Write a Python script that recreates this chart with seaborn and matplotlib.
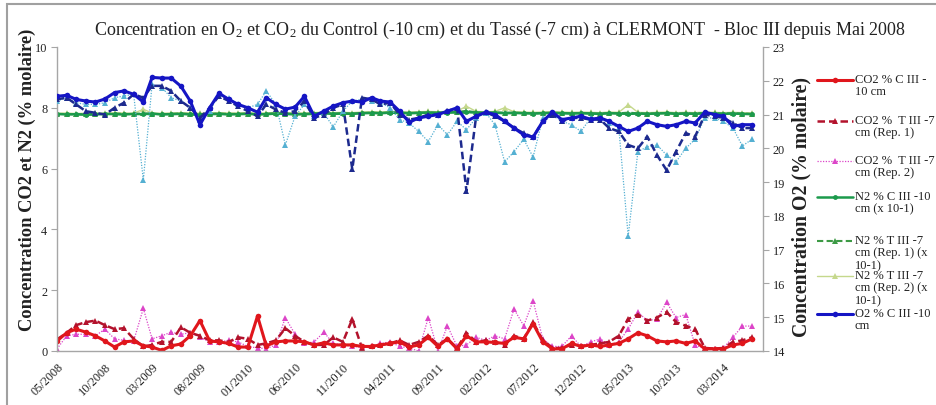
import matplotlib
matplotlib.use("Agg")
import matplotlib.pyplot as plt
import matplotlib.dates as mdates
import matplotlib.ticker as mticker
from matplotlib.lines import Line2D
from matplotlib.patches import Rectangle
import seaborn as sns
import pandas as pd

# ---- data -------------------------------------------------------------
months = [
    "2008-05", "2008-06", "2008-07", "2008-08", "2008-09", "2008-10", "2008-11", "2008-12",
    "2009-01", "2009-02", "2009-03", "2009-04", "2009-05", "2009-06", "2009-07", "2009-08",
    "2009-09", "2009-10", "2009-11", "2009-12", "2010-01", "2010-02", "2010-03", "2010-04",
    "2010-05", "2010-06", "2010-07", "2010-08", "2010-09", "2010-10", "2010-11", "2010-12",
    "2011-01", "2011-02", "2011-03", "2011-04", "2011-05", "2011-06", "2011-07", "2011-08",
    "2011-09", "2011-10", "2011-11", "2011-12", "2012-01", "2012-02", "2012-03", "2012-04",
    "2012-05", "2012-06", "2012-07", "2012-08", "2012-09", "2012-10", "2012-11", "2012-12",
    "2013-01", "2013-02", "2013-03", "2013-04", "2013-05", "2013-06", "2013-07", "2013-08",
    "2013-09", "2013-10", "2013-11", "2013-12", "2014-01", "2014-02", "2014-03", "2014-04",
    "2014-05", "2014-06",
]

co2_c = [0.33, 0.60, 0.72, 0.62, 0.50, 0.33, 0.13, 0.30, 0.33, 0.17,
         0.13, 0.02, 0.17, 0.23, 0.50, 1.00, 0.33, 0.30, 0.25, 0.13,
         0.13, 1.15, 0.17, 0.30, 0.33, 0.33, 0.30, 0.20, 0.27, 0.20,
         0.20, 0.20, 0.15, 0.15, 0.20, 0.25, 0.30, 0.13, 0.20, 0.45,
         0.15, 0.40, 0.07, 0.50, 0.30, 0.30, 0.28, 0.25, 0.45, 0.40,
         0.90, 0.30, 0.07, 0.07, 0.25, 0.15, 0.20, 0.15, 0.20, 0.25,
         0.40, 0.60, 0.50, 0.33, 0.30, 0.33, 0.25, 0.33, 0.07, 0.07,
         0.07, 0.20, 0.25, 0.40]
co2_t1 = [0.38, 0.60, 0.85, 0.95, 1.00, 0.85, 0.72, 0.75, 0.40, 0.15,
          0.20, 0.30, 0.30, 0.78, 0.60, 0.50, 0.35, 0.35, 0.30, 0.45,
          0.40, 0.20, 0.25, 0.35, 0.75, 0.50, 0.30, 0.20, 0.20, 0.45,
          0.30, 1.05, 0.10, 0.15, 0.20, 0.25, 0.35, 0.20, 0.30, 0.50,
          0.20, 0.40, 0.10, 0.60, 0.30, 0.35, 0.30, 0.20, 0.50, 0.40,
          0.95, 0.35, 0.10, 0.10, 0.20, 0.15, 0.20, 0.25, 0.30, 0.50,
          1.05, 1.20, 1.00, 1.10, 1.28, 0.95, 0.83, 0.72, 0.10, 0.08,
          0.10, 0.30, 0.35, 0.45]
co2_t2 = [0.07, 0.50, 0.55, 0.55, 0.50, 0.72, 0.40, 0.35, 0.33, 1.40,
          0.40, 0.50, 0.62, 0.55, 0.60, 0.45, 0.30, 0.30, 0.35, 0.30,
          0.15, 0.10, 0.08, 0.20, 1.10, 0.55, 0.25, 0.30, 0.62, 0.25,
          0.20, 0.15, 0.12, 0.15, 0.25, 0.30, 0.15, 0.10, 0.00, 1.10,
          0.00, 0.83, 0.15, 0.20, 0.45, 0.35, 0.50, 0.40, 1.38, 0.83,
          1.65, 0.40, 0.15, 0.15, 0.50, 0.15, 0.30, 0.40, 0.20, 0.30,
          0.72, 1.28, 1.00, 1.05, 1.60, 1.10, 1.20, 0.20, 0.07, 0.07,
          0.10, 0.45, 0.82, 0.82]

n2_c = [7.80, 7.78, 7.79, 7.77, 7.78, 7.80, 7.79, 7.78, 7.80, 7.79,
        7.81, 7.78, 7.79, 7.80, 7.78, 7.77, 7.79, 7.80, 7.78, 7.79,
        7.80, 7.78, 7.79, 7.81, 7.80, 7.78, 7.79, 7.80, 7.82, 7.80,
        7.81, 7.80, 7.82, 7.83, 7.82, 7.84, 7.83, 7.82, 7.83, 7.84,
        7.83, 7.84, 7.85, 7.86, 7.84, 7.83, 7.84, 7.82, 7.83, 7.82,
        7.81, 7.82, 7.83, 7.82, 7.81, 7.82, 7.81, 7.80, 7.82, 7.81,
        7.80, 7.81, 7.80, 7.81, 7.82, 7.80, 7.81, 7.80, 7.82, 7.81,
        7.80, 7.81, 7.80, 7.79]
n2_t1 = [7.79, 7.80, 7.78, 7.79, 7.80, 7.79, 7.81, 7.80, 7.79, 7.82,
         7.80, 7.79, 7.80, 7.81, 7.80, 7.79, 7.80, 7.81, 7.80, 7.80,
         7.81, 7.79, 7.80, 7.82, 7.81, 7.80, 7.80, 7.81, 7.83, 7.81,
         7.82, 7.81, 7.83, 7.84, 7.83, 7.85, 7.84, 7.83, 7.84, 7.85,
         7.84, 7.85, 7.86, 7.90, 7.85, 7.84, 7.85, 7.84, 7.84, 7.83,
         7.82, 7.83, 7.84, 7.83, 7.82, 7.83, 7.82, 7.81, 7.83, 7.82,
         7.84, 7.82, 7.81, 7.82, 7.83, 7.81, 7.82, 7.81, 7.83, 7.82,
         7.81, 7.82, 7.81, 7.80]
n2_t2 = [7.82, 7.83, 7.81, 7.82, 7.83, 7.82, 7.84, 7.83, 7.82, 7.95,
         7.83, 7.82, 7.83, 7.84, 7.83, 7.82, 7.83, 7.84, 7.83, 7.83,
         7.84, 7.82, 7.83, 7.85, 7.84, 7.83, 7.83, 7.84, 7.86, 7.84,
         7.85, 7.84, 7.86, 7.87, 7.86, 7.88, 7.87, 7.86, 7.87, 7.88,
         7.87, 7.88, 7.89, 8.05, 7.88, 7.87, 7.88, 8.00, 7.87, 7.86,
         7.85, 7.86, 7.87, 7.86, 7.85, 7.86, 7.85, 7.84, 7.86, 7.85,
         8.10, 7.85, 7.84, 7.85, 7.86, 7.84, 7.85, 7.84, 7.86, 7.85,
         7.84, 7.85, 7.84, 7.83]

o2_c = [21.54, 21.57, 21.45, 21.40, 21.37, 21.46, 21.65, 21.70, 21.60, 21.37,
        22.10, 22.08, 22.08, 21.84, 21.40, 20.70, 21.20, 21.63, 21.45, 21.30,
        21.20, 21.07, 21.50, 21.30, 21.16, 21.22, 21.54, 20.95, 21.10, 21.25,
        21.35, 21.40, 21.37, 21.50, 21.40, 21.37, 21.10, 20.77, 20.90, 20.95,
        21.00, 21.10, 21.20, 20.80, 20.95, 21.07, 21.00, 20.80, 20.60, 20.40,
        20.33, 20.80, 21.07, 20.85, 20.90, 20.95, 20.86, 20.90, 20.80, 20.65,
        20.50, 20.60, 20.80, 20.70, 20.65, 20.70, 20.80, 20.75, 21.07, 21.00,
        20.95, 20.65, 20.70, 20.70]
o2_t1 = [21.45, 21.50, 21.30, 21.10, 21.05, 21.00, 21.20, 21.35, 21.60, 21.50,
         21.85, 21.85, 21.70, 21.40, 21.20, 20.90, 21.20, 21.55, 21.40, 21.25,
         21.10, 20.95, 21.30, 21.15, 21.05, 21.10, 21.40, 20.90, 21.00, 21.20,
         21.30, 19.38, 21.50, 21.45, 21.30, 21.35, 21.00, 20.85, 20.90, 21.00,
         21.00, 21.10, 21.20, 18.73, 20.95, 21.07, 20.95, 20.80, 20.60, 20.45,
         20.33, 20.80, 21.00, 20.80, 20.90, 20.90, 20.85, 20.85, 20.60, 20.50,
         20.10, 20.00, 20.35, 19.80, 19.35, 19.90, 20.45, 20.35, 21.00, 20.95,
         20.90, 20.75, 20.60, 20.60]
o2_t2 = [21.40, 21.50, 21.35, 21.30, 21.30, 21.35, 21.50, 21.55, 21.60, 19.06,
         21.90, 21.80, 21.50, 21.40, 21.20, 20.85, 21.10, 21.60, 21.50, 21.30,
         21.20, 21.30, 21.70, 21.30, 20.10, 20.95, 21.30, 20.95, 21.05, 20.63,
         21.10, 21.40, 21.45, 21.40, 21.35, 21.20, 20.85, 20.75, 20.50, 20.20,
         20.70, 20.40, 20.80, 20.55, 20.90, 21.05, 20.70, 19.60, 19.90, 20.27,
         19.74, 20.90, 21.00, 20.80, 20.70, 20.50, 20.90, 20.90, 20.75, 20.60,
         17.40, 19.90, 20.05, 20.10, 19.80, 19.60, 20.00, 20.27, 20.90, 20.90,
         20.80, 20.60, 20.07, 20.27]

legend_labels = [
    "CO2 % C III -\n10 cm",
    "CO2 %  T III -7\ncm (Rep. 1)",
    "CO2 %  T III -7\ncm (Rep. 2)",
    "N2 % C III -10\ncm (x 10-1)",
    "N2 % T III -7\ncm (Rep. 1) (x\n10-1)",
    "N2 % T III -7\ncm (Rep. 2) (x\n10-1)",
    "O2 % C III -10\ncm",
]

# ---- style ------------------------------------------------------------
sns.set_theme(style="white")
plt.rcParams["font.family"] = ["Liberation Serif", "DejaVu Serif"]
plt.rcParams["mathtext.fontset"] = "custom"
plt.rcParams["mathtext.rm"] = "Liberation Serif"
plt.rcParams["mathtext.it"] = "Liberation Serif:italic"
plt.rcParams["mathtext.bf"] = "Liberation Serif:bold"

W, H = 937, 406
dates = pd.to_datetime(months, format="%Y-%m")

DASH = (0, (3.0, 1.6))
DOT = (0, (1.0, 1.2))

styles = {
    "co2_c":  dict(color="#e0161c", ls="-",  marker="o", lw=2.2, ms=4.0),
    "co2_t1": dict(color="#b3122c", ls=DASH, marker="^", lw=1.8, ms=4.5),
    "co2_t2": dict(color="#dc45c8", ls=DOT,  marker="^", lw=0.9, ms=4.5),
    "n2_c":   dict(color="#1c9a4c", ls="-",  marker="o", lw=1.8, ms=3.5),
    "n2_t1":  dict(color="#3d9a45", ls=DASH, marker="^", lw=1.5, ms=4.0),
    "n2_t2":  dict(color="#c5d88c", ls="-",  marker="^", lw=1.0, ms=4.5),
    "o2_c":   dict(color="#1515c4", ls="-",  marker="o", lw=2.2, ms=4.0),
    "o2_t1":  dict(color="#1d2a8e", ls=DASH, marker="^", lw=1.8, ms=4.5),
    "o2_t2":  dict(color="#55b0d2", ls=DOT,  marker="^", lw=0.9, ms=4.5),
}

fig = plt.figure(figsize=(W / 100, H / 100), dpi=100)
ax = fig.add_axes([57 / W, 1 - 352 / H, (763 - 57) / W, (352 - 48) / H])
ax2 = ax.twinx()


def draw(axis, values, key):
    st = styles[key]
    sns.lineplot(x=dates, y=values, ax=axis, color=st["color"], linestyle=st["ls"],
                 linewidth=st["lw"], marker=st["marker"], markersize=st["ms"],
                 markeredgewidth=0, markerfacecolor=st["color"], legend=False)


for vals, key in [(n2_t2, "n2_t2"), (n2_t1, "n2_t1"), (n2_c, "n2_c"),
                  (co2_t2, "co2_t2"), (co2_t1, "co2_t1"), (co2_c, "co2_c")]:
    draw(ax, vals, key)
for vals, key in [(o2_t2, "o2_t2"), (o2_t1, "o2_t1"), (o2_c, "o2_c")]:
    draw(ax2, vals, key)

# ---- axes -------------------------------------------------------------
ax.set_xlim(pd.Timestamp("2008-05-01"), pd.Timestamp("2014-07-06"))
ax.set_ylim(0, 10)
ax.set_yticks([0, 2, 4, 6, 8, 10])
ax2.set_ylim(14, 23)
ax2.set_yticks(range(14, 24))
ax.set_xlabel("")
ax.set_ylabel("")
ax2.set_ylabel("")

major = pd.date_range("2008-05-01", "2014-03-01", freq="5MS")
ax.xaxis.set_major_locator(mticker.FixedLocator(mdates.date2num(major)))
ax.xaxis.set_major_formatter(mdates.DateFormatter("%m/%Y"))
ax.xaxis.set_minor_locator(mdates.MonthLocator())

AXC = "#a6a6a6"
for a in (ax, ax2):
    for s in a.spines.values():
        s.set_visible(False)
ax.spines["left"].set_visible(True)
ax.spines["bottom"].set_visible(True)
ax2.spines["right"].set_visible(True)
for s in (ax.spines["left"], ax.spines["bottom"], ax2.spines["right"]):
    s.set_color(AXC)
    s.set_linewidth(1.0)

ax.tick_params(axis="both", which="both", direction="out", color=AXC,
               labelsize=8.8, labelcolor="#222222", width=0.8)
ax.tick_params(axis="y", length=4, pad=3)
ax.tick_params(axis="x", which="major", length=4, pad=3)
ax.tick_params(axis="x", which="minor", length=2.5)
ax2.tick_params(axis="y", direction="out", color=AXC, length=4, width=0.8,
                labelsize=8.8, labelcolor="#222222", pad=3)
for lab in ax.get_xticklabels():
    lab.set_rotation(45)
    lab.set_ha("right")
    lab.set_va("top")
    lab.set_rotation_mode("anchor")
ax.grid(False)
ax2.grid(False)

# ---- texts ------------------------------------------------------------
fig.text(500 / W, 1 - 30 / H,
         "Concentration en O$_2$ et CO$_2$ du Control (-10 cm) et du Tassé (-7 cm) "
         "à CLERMONT  - Bloc III depuis Mai 2008",
         ha="center", va="center", fontsize=13, color="#222222")
fig.text(27 / W, 1 - 180 / H, "Concentration CO2 et N2 (% molaire)",
         rotation=90, ha="center", va="center", fontsize=13.3,
         fontweight="bold", color="#222222")
fig.text(801 / W, 1 - 207 / H, "Concentration O2 (% molaire)",
         rotation=90, ha="center", va="center", fontsize=14.2,
         fontweight="bold", color="#222222")

# ---- legend -----------------------------------------------------------
legend_keys = ["co2_c", "co2_t1", "co2_t2", "n2_c", "n2_t1", "n2_t2", "o2_c"]
legend_y = [81, 122, 162, 198, 242, 277, 315]
for key, label, ypx in zip(legend_keys, legend_labels, legend_y):
    st = styles[key]
    fy = 1 - ypx / H
    fig.add_artist(Line2D([817 / W, 853 / W], [fy, fy], transform=fig.transFigure,
                          color=st["color"], linestyle=st["ls"], linewidth=st["lw"]))
    fig.add_artist(Line2D([835 / W], [fy], transform=fig.transFigure,
                          color=st["color"], marker=st["marker"], markersize=st["ms"],
                          markeredgewidth=0, linestyle="none"))
    fig.text(855 / W, 1 - (ypx - 7) / H, label, ha="left", va="top",
             fontsize=9, linespacing=1.05, color="#222222")

# frame around the chart
fig.add_artist(Rectangle((7 / W, -0.05), 1.2, 1.05 - 5 / H, transform=fig.transFigure,
                         fill=False, edgecolor="#a0a0a0", linewidth=1.5))

fig.savefig("out.png", dpi=100)
